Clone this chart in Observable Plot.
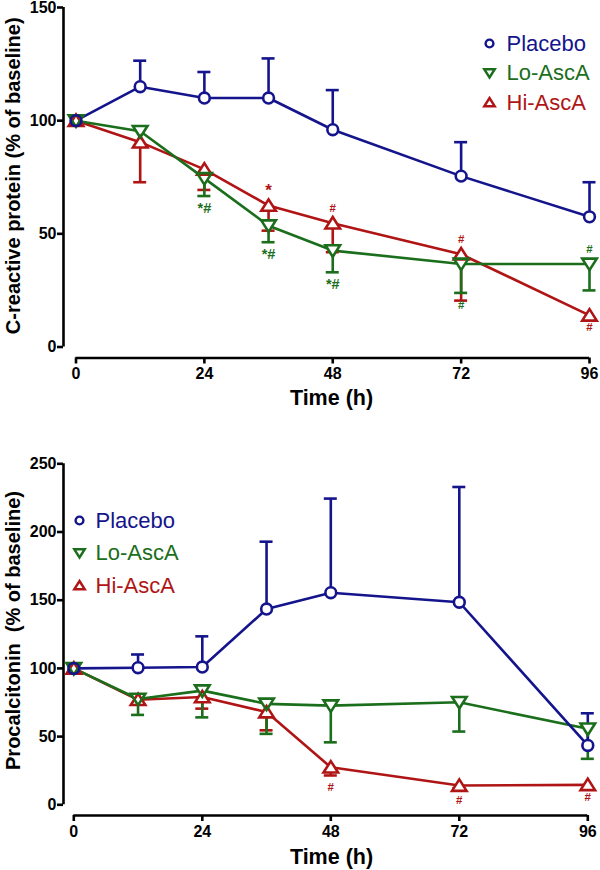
<!DOCTYPE html>
<html><head><meta charset="utf-8">
<script src="https://cdn.jsdelivr.net/npm/d3@7"></script>
<script src="https://cdn.jsdelivr.net/npm/@observablehq/plot@0.6"></script>
<style>
body{margin:0;background:#fff;}
#chart{width:600px;height:870px;font-family:"Liberation Sans",Arial,sans-serif;}
#chart svg{display:block;}
</style></head><body><div id="chart"></div>
<script>
// ---------- data ----------
const times = [0, 12, 24, 36, 48, 72, 96];
const xTicks = [0, 24, 48, 72, 96];
const seriesNames = ["Placebo", "Lo-AscA", "Hi-AscA"];
const seriesColors = ["#14148c", "#1b6e1b", "#b01515"];
const errDirection = [1, -1, -1]; // placebo bars point up, treatments down

// C-reactive protein (% of baseline), mean and SEM
const crpYTicks = [0, 50, 100, 150];
const crpPlacebo = [100, 115, 110, 110, 96, 75.5, 57.5];
const crpPlaceboSem = [0, 11.5, 11.5, 17.5, 17.5, 15, 15.3];
const crpLo = [100, 95.3, 74.5, 53.6, 42.6, 36.7, 36.7];
const crpLoSem = [0, 0, 7.8, 7.3, 9.6, 12.8, 11.7];
const crpHi = [100, 90.5, 78.5, 62.5, 54.7, 41, 14];
const crpHiSem = [0, 17.7, 9.1, 11.1, 12.8, 20.5, 0];
const crpNotes = [
  {time: 24, series: "Lo-AscA", label: "*#", side: "below"},
  {time: 36, series: "Lo-AscA", label: "*#", side: "below"},
  {time: 36, series: "Hi-AscA", label: "*", side: "above"},
  {time: 48, series: "Hi-AscA", label: "#", side: "above"},
  {time: 48, series: "Lo-AscA", label: "*#", side: "below"},
  {time: 72, series: "Hi-AscA", label: "#", side: "above"},
  {time: 72, series: "Lo-AscA", label: "#", side: "below"},
  {time: 96, series: "Lo-AscA", label: "#", side: "above"},
  {time: 96, series: "Hi-AscA", label: "#", side: "below"}
];

// Procalcitonin (% of baseline), mean and SEM
const pctYTicks = [0, 50, 100, 150, 200, 250];
const pctPlacebo = [100, 100.5, 101, 143.5, 155.5, 148.5, 43.5];
const pctPlaceboSem = [0, 9.7, 22.5, 49.4, 69, 84.5, 23.6];
const pctLo = [100, 77.6, 83.7, 74, 72.7, 75.2, 55.7];
const pctLoSem = [0, 11.7, 19.6, 22, 26.9, 21.5, 22];
const pctHi = [100, 77, 79, 68, 27.5, 14.1, 14.6];
const pctHiSem = [0, 0, 8.5, 13.4, 6, 2, 0];
const pctNotes = [
  {time: 48, series: "Hi-AscA", label: "#", side: "below"},
  {time: 72, series: "Hi-AscA", label: "#", side: "below"},
  {time: 96, series: "Hi-AscA", label: "#", side: "below"}
];

// ---------- symbols ----------
const triUp = {draw(ctx, size) {
  const r = Math.sqrt(size / Math.PI), w = r * 1.35, h = r * 1.15;
  ctx.moveTo(0, -h); ctx.lineTo(w, h * 0.85); ctx.lineTo(-w, h * 0.85); ctx.closePath();
}};
const triDown = {draw(ctx, size) {
  const r = Math.sqrt(size / Math.PI), w = r * 1.35, h = r * 1.15;
  ctx.moveTo(0, h); ctx.lineTo(w, -h * 0.85); ctx.lineTo(-w, -h * 0.85); ctx.closePath();
}};
const seriesSymbols = ["circle", triDown, triUp];

const FONT = "'Liberation Sans', Arial, sans-serif";

function buildRows(means, sems) {
  const rows = [];
  seriesNames.forEach((s, k) => {
    times.forEach((t, i) => {
      rows.push({series: s, k, t, v: means[k][i], sem: sems[k][i],
                 end: means[k][i] + errDirection[k] * sems[k][i]});
    });
  });
  return rows;
}

function panel(cfg) {
  const rows = buildRows(cfg.means, cfg.sems);
  const order = [2, 1, 0]; // Hi drawn first, placebo on top
  const marks = [];
  // axis lines
  marks.push(Plot.ruleX([0], {y1: 0, y2: cfg.yTicks[cfg.yTicks.length - 1], dx: 63 - cfg.xRange[0], stroke: "black", strokeWidth: 2.6}));
  marks.push(Plot.ruleY([0], {x1: 0, x2: 96, dy: cfg.axisPx - cfg.yRange[0], stroke: "black", strokeWidth: 2.6}));
  marks.push(Plot.axisY(cfg.yTicks, {anchor: "left", tickSize: 6, tickPadding: 1, fontSize: 16, fontWeight: "bold", strokeWidth: 2.6, label: null, fill: "black", stroke: "black"}));
  marks.push(Plot.axisX(xTicks, {anchor: "bottom", tickSize: 6, tickPadding: 4, fontSize: 16, fontWeight: "bold", strokeWidth: 2.6, label: null, fill: "black", stroke: "black"}));
  // lines
  for (const k of order) {
    marks.push(Plot.line(rows.filter(d => d.k === k), {x: "t", y: "v", stroke: seriesColors[k], strokeWidth: 2.6}));
  }
  // error bars
  for (const k of order) {
    const er = rows.filter(d => d.k === k && d.sem > 0);
    marks.push(Plot.ruleX(er, {x: "t", y1: "v", y2: "end", stroke: seriesColors[k], strokeWidth: 2.6}));
    marks.push(Plot.ruleY(er, {y: "end", x1: "t", x2: "t", insetLeft: -6.5, insetRight: -6.5, stroke: seriesColors[k], strokeWidth: 2.6}));
  }
  // white knockouts then outlines
  for (const k of order) {
    marks.push(Plot.dot(rows.filter(d => d.k === k), {x: "t", y: "v", r: 5.4, symbol: () => seriesSymbols[k], fill: "white", stroke: "none"}));
  }
  for (const k of order) {
    marks.push(Plot.dot(rows.filter(d => d.k === k), {x: "t", y: "v", r: 5.4, symbol: () => seriesSymbols[k], fill: "none", stroke: seriesColors[k], strokeWidth: 2.6}));
  }
  // significance notes
  const notes = cfg.notes.map(n => {
    const row = rows.find(d => d.series === n.series && d.t === n.time);
    return {...n, k: row.k, y: n.side === "above" ? row.v : (row.sem > 0 ? row.end : row.v)};
  });
  for (const side of ["above", "below"]) {
    marks.push(Plot.text(notes.filter(n => n.side === side), {
      x: "time", y: "y", text: "label", dy: side === "above" ? -15 : 12,
      fill: n => seriesColors[n.k], fontWeight: "bold",
      fontSize: n => n.label === "#" ? 11.5 : (n.label === "*" ? 17 : 14.5)
    }));
  }
  // legend
  seriesNames.forEach((s, k) => {
    marks.push(Plot.dot([s], {frameAnchor: "top-left", dx: cfg.legend.mx, dy: cfg.legend.y0 + k * cfg.legend.step, r: 3.9, symbol: () => seriesSymbols[k], fill: "none", stroke: seriesColors[k], strokeWidth: 2.4}));
    marks.push(Plot.text([s], {frameAnchor: "top-left", dx: cfg.legend.tx, dy: cfg.legend.y0 + k * cfg.legend.step, text: d => d, textAnchor: "start", lineAnchor: "middle", fontSize: 22, fill: seriesColors[k]}));
  });
  // axis titles
  marks.push(Plot.text([cfg.yLabel], {frameAnchor: "left", rotate: -90, textAnchor: "middle", lineAnchor: "middle", dx: -50, dy: cfg.yLabelDy, text: d => d, fontSize: 20, fontWeight: "bold", fill: "black"}));
  marks.push(Plot.text(["Time (h)"], {frameAnchor: "bottom", textAnchor: "middle", dx: 5, dy: cfg.timeDy, text: d => d, lineAnchor: "top", fontSize: 21.5, fontWeight: "bold", fill: "black"}));

  return Plot.plot({
    width: 600, height: cfg.height,
    marginLeft: 63, marginRight: 11, marginTop: cfg.marginTop, marginBottom: cfg.height - cfg.axisPx,
    x: {domain: [0, 96], range: cfg.xRange},
    y: {domain: [0, cfg.yTicks[cfg.yTicks.length - 1]], range: cfg.yRange},
    style: {fontFamily: FONT, background: "white", overflow: "visible", color: "black"},
    marks
  });
}

const crpChart = panel({
  height: 420, marginTop: 7, axisPx: 357.5,
  xRange: [75.5, 589], yRange: [346.5, 7],
  yTicks: crpYTicks,
  means: [crpPlacebo, crpLo, crpHi], sems: [crpPlaceboSem, crpLoSem, crpHiSem],
  notes: crpNotes,
  legend: {mx: 426, tx: 443, y0: 36, step: 29.5},
  yLabel: "C-reactive protein (% of baseline)", yLabelDy: -7, timeDy: 32
});
const pctChart = panel({
  height: 450, marginTop: 43, axisPx: 395,
  xRange: [73.3, 587.3], yRange: [384.3, 43.3],
  yTicks: pctYTicks,
  means: [pctPlacebo, pctLo, pctHi], sems: [pctPlaceboSem, pctLoSem, pctHiSem],
  notes: pctNotes,
  legend: {mx: 16, tx: 32, y0: 57, step: 32.5},
  yLabel: "Procalcitonin  (% of baseline)", yLabelDy: -9, timeDy: 33
});
const el = document.getElementById("chart");
el.appendChild(crpChart);
el.appendChild(pctChart);
</script></body></html>
